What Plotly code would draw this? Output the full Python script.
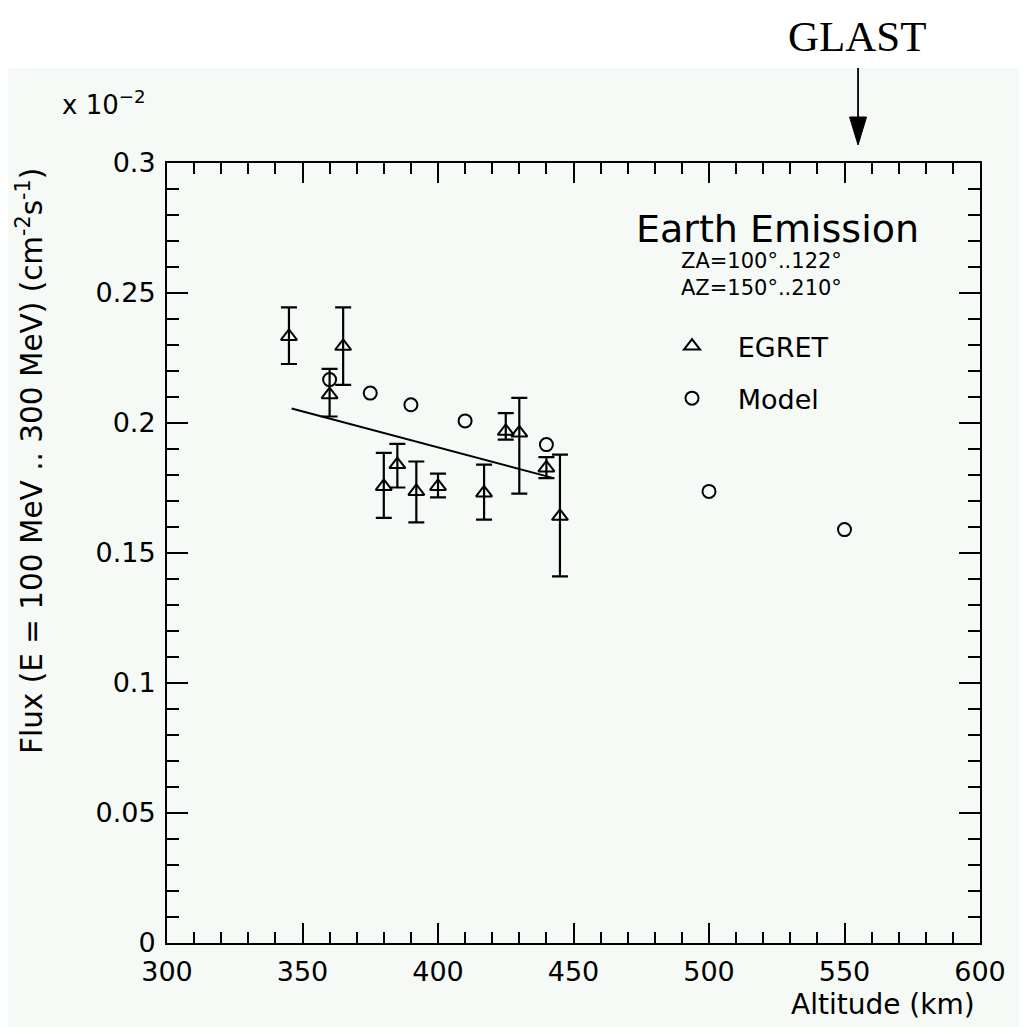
import plotly.graph_objects as go

# EGRET measurements
egret_x = [345, 360, 365, 380, 385, 392, 400, 417, 425, 430, 440, 445]
egret_y = [0.2333, 0.2109, 0.2295, 0.1756, 0.1840, 0.1737, 0.1756, 0.1731, 0.1968, 0.1962, 0.1827, 0.1641]
egret_err_plus = [0.0112, 0.0099, 0.0150, 0.0129, 0.0080, 0.0115, 0.0049, 0.0109, 0.0070, 0.0135, 0.0042, 0.0237]
egret_err_minus = [0.0106, 0.0084, 0.0148, 0.0121, 0.0088, 0.0119, 0.0042, 0.0103, 0.0032, 0.0234, 0.0039, 0.0231]

# Model
model_x = [360, 375, 390, 410, 440, 500, 550]
model_y = [0.2167, 0.2115, 0.2070, 0.2008, 0.1917, 0.1737, 0.1590]

# Linear fit to EGRET
fit_x = [346, 442]
fit_y = [0.2056, 0.1790]

# Axis ticks
y_tickvals = [0, 0.05, 0.1, 0.15, 0.2, 0.25, 0.3]
y_ticktext = ["0", "0.05", "0.1", "0.15", "0.2", "0.25", "0.3"]
x_tickvals = [300, 350, 400, 450, 500, 550, 600]
x_ticktext = ["300", "350", "400", "450", "500", "550", "600"]

glast_x = 555

FONT = "DejaVu Sans"
TINT = "#f6faf6"
NB = "\u00a0"

fig = go.Figure()

fig.add_trace(go.Scatter(
    x=fit_x, y=fit_y, mode="lines",
    line=dict(color="black", width=2), showlegend=False, hoverinfo="skip"))

fig.add_trace(go.Scatter(
    x=model_x, y=model_y, mode="markers",
    marker=dict(symbol="circle-open", size=13, color="black", line=dict(width=2)),
    showlegend=False))

fig.add_trace(go.Scatter(
    x=egret_x, y=egret_y, mode="markers",
    marker=dict(symbol="triangle-up-open", size=14, color="black", line=dict(width=2)),
    error_y=dict(type="data", symmetric=False, array=egret_err_plus,
                 arrayminus=egret_err_minus, color="black", thickness=2.2, width=8),
    showlegend=False))

# legend-only entries
fig.add_trace(go.Scatter(
    x=[None], y=[None], mode="markers", name=NB * 3 + "EGRET", legendgroup="a",
    marker=dict(symbol="triangle-up-open", size=14, color="black", line=dict(width=2))))
fig.add_trace(go.Scatter(
    x=[None], y=[None], mode="markers", name=NB * 3 + "Model", legendgroup="b",
    marker=dict(symbol="circle-open", size=13, color="black", line=dict(width=2))))

OFF = 8  # page body margin
W = H = 1027 - OFF
L, R, T, B = 159, 47, 155, 84
pw = W - L - R
ph = H - T - B


def px_x(p):
    return (p - OFF - L) / pw


def px_y(p):
    return (H - B - (p - OFF)) / ph


fig.update_layout(
    width=W, height=H,
    margin=dict(l=L, r=R, t=T, b=B),
    paper_bgcolor=TINT,
    plot_bgcolor=TINT,
    font=dict(family=FONT, color="black", size=27),
    showlegend=True,
    legend=dict(x=px_x(672), y=px_y(322), xanchor="left", yanchor="top",
                bgcolor="rgba(0,0,0,0)", font=dict(size=27, family=FONT),
                tracegroupgap=14),
    xaxis=dict(range=[300, 600], tickvals=x_tickvals, ticktext=x_ticktext,
               ticks="inside", ticklen=20, tickwidth=2, tickcolor="black",
               showline=True, linecolor="black", linewidth=2, mirror="allticks",
               showgrid=False, zeroline=False, ticklabelstandoff=4,
               tickfont=dict(size=27, family=FONT),
               minor=dict(dtick=10, ticks="inside", ticklen=11, tickwidth=2,
                          tickcolor="black", showgrid=False)),
    yaxis=dict(range=[0, 0.3], tickvals=y_tickvals, ticktext=y_ticktext,
               ticks="inside", ticklen=21, tickwidth=2, tickcolor="black",
               showline=True, linecolor="black", linewidth=2, mirror="allticks",
               showgrid=False, zeroline=False, ticklabelstandoff=4,
               tickfont=dict(size=27, family=FONT),
               minor=dict(dtick=0.01, ticks="inside", ticklen=12, tickwidth=2,
                          tickcolor="black", showgrid=False)),
)

# white strip at the top for the GLAST label
fig.add_shape(type="rect", xref="paper", yref="paper",
              x0=px_x(0), x1=px_x(1040), y0=px_y(68), y1=px_y(0),
              fillcolor="white", line=dict(width=0), layer="below")

# GLAST arrow: shaft and head
fig.add_shape(type="line", xref="x", yref="paper",
              x0=glast_x, x1=glast_x, y0=px_y(68), y1=px_y(125),
              line=dict(color="black", width=1.8))
fig.add_shape(type="path", xref="x", yref="paper",
              xsizemode="pixel", ysizemode="pixel",
              xanchor=glast_x, yanchor=px_y(145),
              path="M -8.5 28 L 8.5 28 L 0 0 Z",
              fillcolor="black", line=dict(color="black", width=1))

annotations = [
    dict(text="Altitude (km)", xref="paper", yref="paper",
         x=px_x(977), y=px_y(1004), xanchor="right", yanchor="middle",
         showarrow=False, font=dict(size=28, family=FONT)),
    dict(text="Flux (E = 100 MeV .. 300 MeV) (cm<sup>-2</sup>s<sup>-1</sup>)",
         xref="paper", yref="paper", x=px_x(30), y=px_y(166),
         xanchor="center", yanchor="top", textangle=-90,
         showarrow=False, font=dict(size=29.5, family=FONT)),
    dict(text="x 10<sup>−2</sup>", xref="paper", yref="paper",
         x=px_x(60), y=px_y(103), xanchor="left", yanchor="middle",
         showarrow=False, font=dict(size=26, family=FONT)),
    dict(text="Earth Emission", xref="paper", yref="paper",
         x=px_x(777), y=px_y(229), xanchor="center", yanchor="middle",
         showarrow=False, font=dict(size=38, family=FONT)),
    dict(text="ZA=100°..122°<br>AZ=150°..210°", xref="paper", yref="paper",
         x=px_x(680), y=px_y(274), xanchor="left", yanchor="middle", align="left",
         showarrow=False, borderpad=0, font=dict(size=21, family=FONT)),
    dict(text="GLAST", xref="paper", yref="paper",
         x=px_x(857), y=px_y(37), xanchor="center", yanchor="middle",
         showarrow=False, borderpad=0,
         font=dict(size=43, family="Liberation Serif", color="black")),
]
for a in annotations:
    fig.add_annotation(**a)

fig.write_html("out.html")
